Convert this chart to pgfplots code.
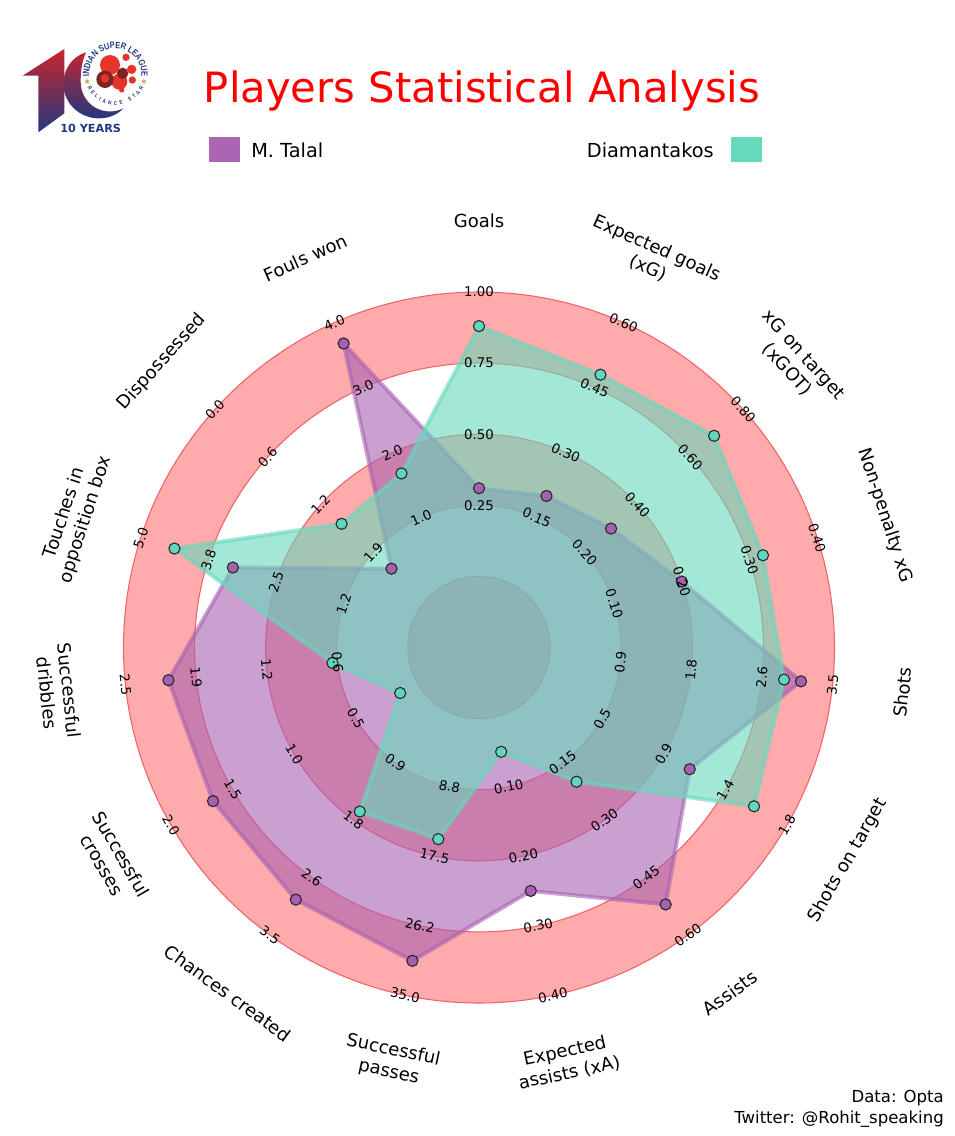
\documentclass[border=0pt]{standalone}
\usepackage{fontspec}
\setmainfont{DejaVu Sans}
\newfontfamily\logofont[FakeStretch=0.82]{Liberation Sans}
\usepackage{pgfplots}
\pgfplotsset{compat=1.18}
\usepackage{pgfplotstable}
\usepgfplotslibrary{polar}
\usetikzlibrary{decorations.text}
\definecolor{talal}{HTML}{A660B0}
\definecolor{diam}{HTML}{66D9BB}
\definecolor{diammark}{HTML}{5FD6BE}
\definecolor{ringfill}{HTML}{FFABAB}
\definecolor{ringedge}{HTML}{F0626A}
\definecolor{lognavy}{HTML}{24387F}
\definecolor{logred}{HTML}{C8252C}
\definecolor{logball}{HTML}{E5352B}
\definecolor{logdark}{HTML}{7E2427}
\definecolor{loggold}{HTML}{C9A14B}

% value of each player on each spoke; lo is the centre of the scale, hi the rim
\pgfplotstableread{
a   lo   hi   talal  diam
90  0    1.0  0.31   0.88
66  0    0.6  0.20   0.48
42  0    0.8  0.30   0.69
18  0    0.4  0.20   0.32
354 0    3.5  3.11   2.90
330 0    1.8  1.09   1.56
306 0    0.6  0.52   0.20
282 0    0.4  0.25   0.05
258 0    35   30.67  15.36
234 0    3.5  2.96   1.62
210 0    2.0  1.66   0.14
186 0    2.5  2.12   0.67
162 0    5.0  3.30   4.38
138 2.5  0.0  2.09   1.50
114 0    4.0  3.68   1.68
90  0    1.0  0.31   0.88
}\radar

\begin{document}
\begin{tikzpicture}[x=0.75pt,y=0.75pt]
\path[use as bounding box] (0,0) rectangle (954,-1136);

% rings
\begin{scope}[shift={(479,-647.5)}]
\path[fill=ringfill,draw=ringedge,line width=0.8pt,even odd rule] (0,0) circle[radius=355.5] (0,0) circle[radius=284.4];
\path[fill=ringfill,draw=ringedge,line width=0.8pt,even odd rule] (0,0) circle[radius=213.3] (0,0) circle[radius=142.2];
\path[fill=ringfill,draw=ringedge,line width=0.8pt] (0,0) circle[radius=71.1];
\end{scope}

\begin{polaraxis}[
  at={(359.25pt,-485.625pt)}, anchor=center,
  scale only axis, width=533.25pt, height=533.25pt,
  xmin=0, xmax=360, ymin=0, ymax=5,
  hide axis, clip=false,
]
\addplot[sharp plot, no markers, fill=talal, draw=talal, fill opacity=0.6, draw opacity=0.6, line width=3pt]
  table[x=a, y expr={1+4*(\thisrow{talal}-\thisrow{lo})/(\thisrow{hi}-\thisrow{lo})}] {\radar};
\addplot[sharp plot, no markers, fill=diam, draw=diam, fill opacity=0.6, draw opacity=0.6, line width=3pt]
  table[x=a, y expr={1+4*(\thisrow{diam}-\thisrow{lo})/(\thisrow{hi}-\thisrow{lo})}] {\radar};
\addplot[only marks, skip coords between index={15}{16}, mark=*, mark size=4.2pt,
  mark options={fill=talal, draw=black!85, line width=0.8pt}]
  table[x=a, y expr={1+4*(\thisrow{talal}-\thisrow{lo})/(\thisrow{hi}-\thisrow{lo})}] {\radar};
\addplot[only marks, skip coords between index={15}{16}, mark=*, mark size=4.2pt,
  mark options={fill=diammark, draw=black!85, line width=0.8pt}]
  table[x=a, y expr={1+4*(\thisrow{diam}-\thisrow{lo})/(\thisrow{hi}-\thisrow{lo})}] {\radar};
\end{polaraxis}

% tick labels on the rings
\begin{scope}[shift={(479,-647.5)}, every node/.style={inner sep=0pt, font=\fontsize{10}{12}\selectfont}]
\foreach \a/\rot/\ta/\tb/\tc/\td in {
  90/0/0.25/0.50/0.75/1.00,
  66/-24/0.15/0.30/0.45/0.60,
  42/-48/0.20/0.40/0.60/0.80,
  18/-72/0.10/0.20/0.30/0.40,
  -6/84/0.9/1.8/2.6/3.5,
  -30/60/0.5/0.9/1.4/1.8,
  -54/36/0.15/0.30/0.45/0.60,
  -78/12/0.10/0.20/0.30/0.40,
  -102/-12/8.8/17.5/26.2/35.0,
  -126/-36/0.9/1.8/2.6/3.5,
  -150/-60/0.5/1.0/1.5/2.0,
  -174/-84/0.6/1.2/1.9/2.5,
  162/72/1.2/2.5/3.8/5.0,
  138/48/1.9/1.2/0.6/0.0,
  114/24/1.0/2.0/3.0/4.0}{
  \node[rotate=\rot] at (\a:142.2) {\ta};
  \node[rotate=\rot] at (\a:213.3) {\tb};
  \node[rotate=\rot] at (\a:284.4) {\tc};
  \node[rotate=\rot] at (\a:355.5) {\td};
}
\end{scope}

% parameter names
\begin{scope}[shift={(479,-647.5)}, every node/.style={inner sep=0pt, align=center, font=\fontsize{13.5}{16.5}\selectfont}]
\node[rotate=0]   at (90:426.5)  {Goals};
\node[rotate=-24] at (66:426)    {Expected goals\\(xG)};
\node[rotate=-48] at (42:426)    {xG on target\\(xGOT)};
\node[rotate=-72] at (18:427)    {Non-penalty xG};
\node[rotate=84]  at (-6:426)    {Shots};
\node[rotate=60]  at (-30:426)   {Shots on target};
\node[rotate=36]  at (-54:427)   {Assists};
\node[rotate=12]  at (-78:424)   {Expected\\assists (xA)};
\node[rotate=-12] at (-102:423)  {Successful\\passes};
\node[rotate=-36] at (-126:427)  {Chances created};
\node[rotate=-60] at (-150:424)  {Successful\\crosses};
\node[rotate=-84] at (-174:423)  {Successful\\dribbles};
\node[rotate=72]  at (162:424.5) {Touches in\\opposition box};
\node[rotate=48]  at (138:426.7) {Dispossessed};
\node[rotate=24]  at (114:426.6) {Fouls won};
\end{scope}

% title, legend, credit
\node[text=red, inner sep=0pt, font=\fontsize{31.3}{36}\selectfont] at (482,-91) {Players Statistical Analysis};
\fill[talal!96!white] (209,-137) rectangle (240,-162);
\node[anchor=west, inner sep=0pt, font=\fontsize{14.5}{17}\selectfont] at (251,-150) {M. Talal};
\fill[diam] (731,-137) rectangle (762,-162);
\node[anchor=east, inner sep=0pt, font=\fontsize{14.5}{17}\selectfont] at (714,-150) {Diamantakos};
\node[anchor=south east, inner sep=0pt, align=right, font=\fontsize{12.4}{16}\selectfont] at (944,-1127.5) {Data: Opta\\Twitter: @Rohit\_speaking};

% logo, in the coordinates of a 3x crop starting at y=30
\begin{scope}[x=0.25pt, y=0.25pt, shift={(0pt,-22.5pt)}]
\shade[top color=logred, bottom color=lognavy, shading angle=0]
  (68,-137) -- (193,-57) -- (193,-250) -- (115,-307) -- (115,-137) -- cycle;
\shade[top color=logred, bottom color=lognavy, middle color=logred!45!lognavy]
  (258,-67) .. controls (215,-80) and (190,-120) .. (190,-160)
  .. controls (190,-225) and (245,-267) .. (300,-265)
  .. controls (330,-264) and (355,-252) .. (370,-235)
  .. controls (340,-250) and (305,-247) .. (278,-228)
  .. controls (255,-210) and (242,-185) .. (242,-155)
  .. controls (242,-115) and (248,-90) .. (258,-67) -- cycle;
\fill[logball] (330,-105) circle[radius=30];
\fill[logball] (358,-155) circle[radius=24];
\fill[logball] (378,-82) circle[radius=11];
\fill[logball] (395,-118) circle[radius=14];
\fill[logball] (397,-150) circle[radius=11];
\fill[logball] (365,-180) circle[radius=8];
\fill[logdark] (315,-148) circle[radius=26];
\fill[logdark] (368,-130) circle[radius=17];
\fill[logball] (315,-145) circle[radius=13];
\node[text=loggold, inner sep=0pt, font=\fontsize{6}{7}\selectfont] at (262,-155) {★};
\node[text=loggold, inner sep=0pt, font=\fontsize{6}{7}\selectfont] at (432,-155) {★};
\path[decorate, decoration={text along path, text align=center,
  text={|\color{lognavy}\logofont\bfseries\fontsize{6.8}{8}\selectfont|INDIAN SUPER LEAGUE}}]
  (268,-133) arc[start angle=180, end angle=0, radius=78];
\path[decorate, decoration={text along path, text align={fit to path},
  text={|\color{lognavy}\logofont\bfseries\fontsize{4.2}{5}\selectfont|RELIANCE STAR}}]
  (262,-172) arc[start angle=205, end angle=335, radius=93];
\node[text=lognavy, inner sep=0pt, font=\bfseries\fontsize{8.4}{10}\selectfont] at (272,-296) {10 YEARS};
\end{scope}
\end{tikzpicture}
\end{document}
